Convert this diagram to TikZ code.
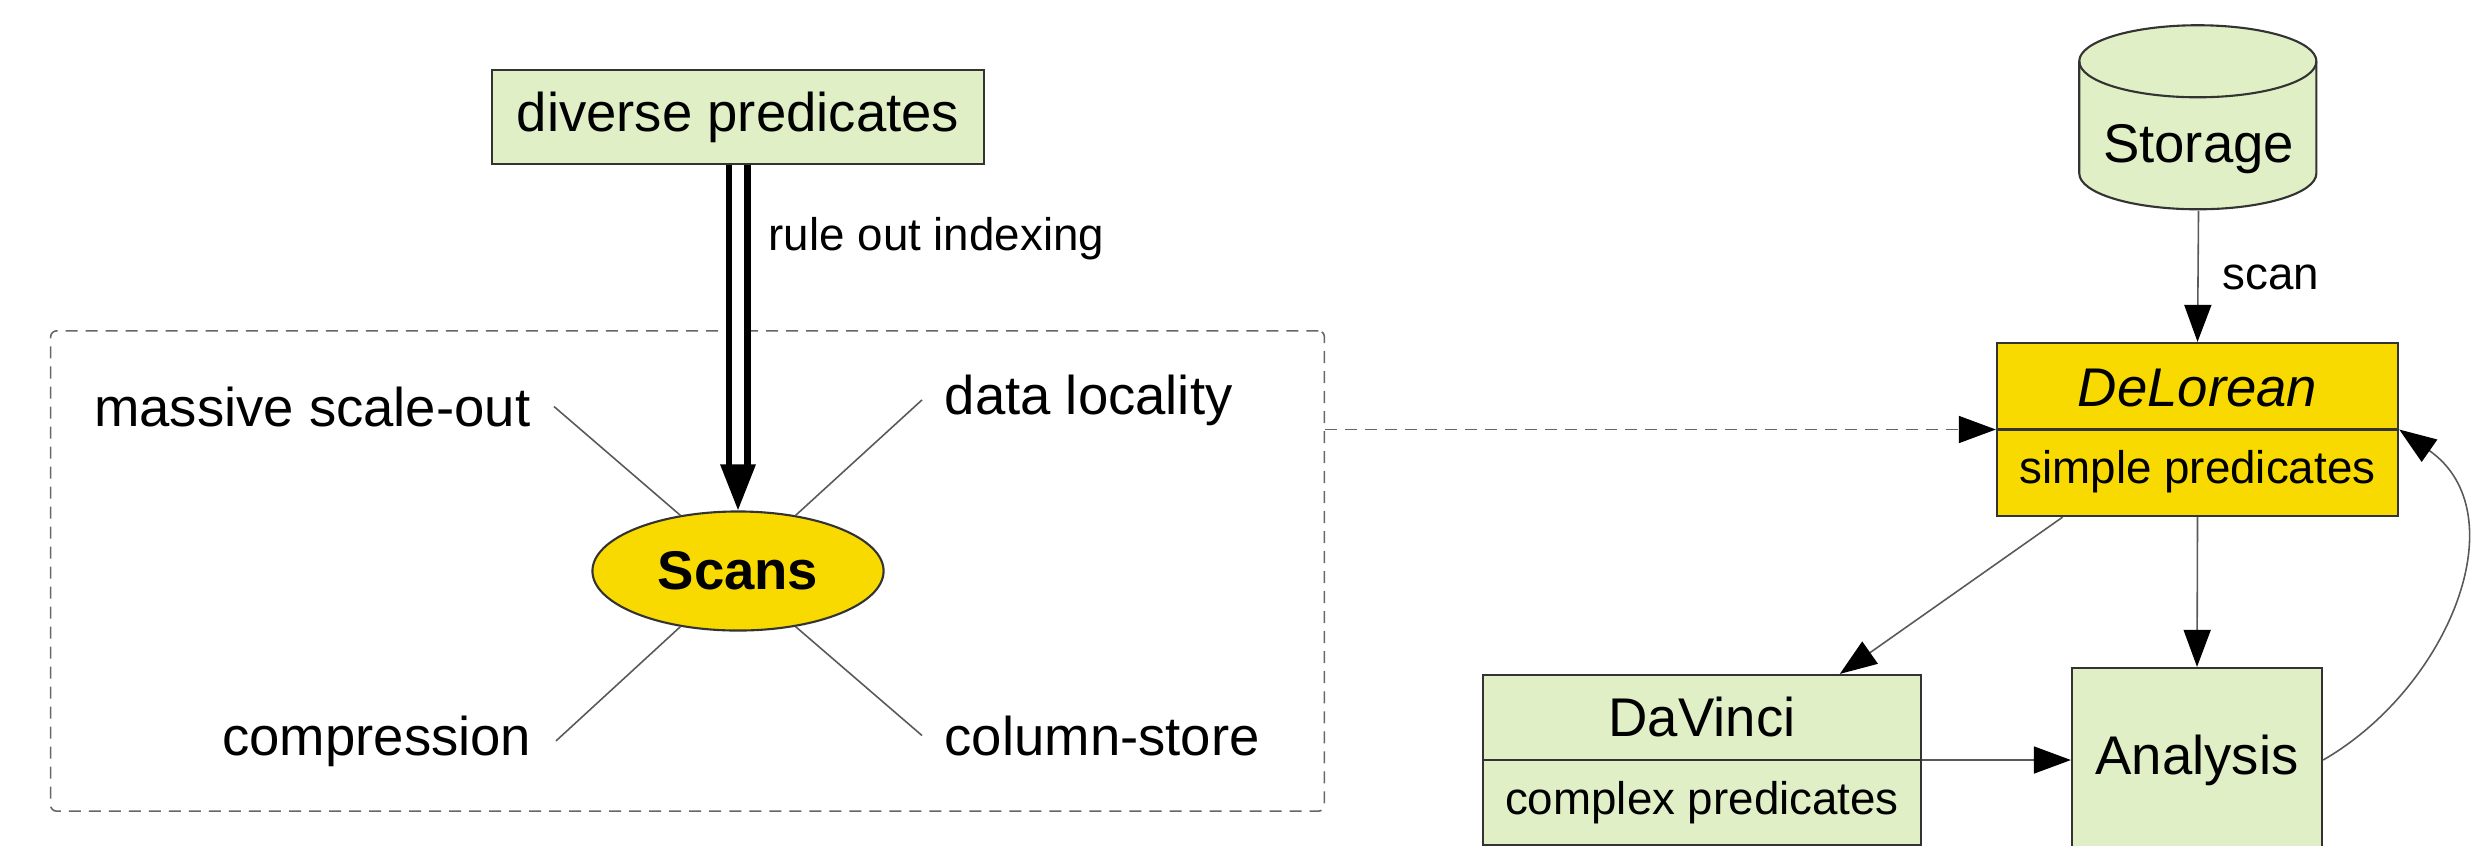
\documentclass[tikz,border=0pt]{standalone}
\usepackage{fontspec}
\setmainfont{Liberation Sans}
\usetikzlibrary{arrows.meta,shapes.geometric}
\definecolor{lgreen}{RGB}{224,239,198}
\definecolor{gold}{RGB}{248,218,0}
\tikzset{
  big/.style={font=\fontsize{15.5pt}{18pt}\selectfont, inner sep=0pt},
  small/.style={font=\fontsize{13pt}{15pt}\selectfont, inner sep=0pt},
  box/.style={draw=black!80, line width=0.6pt, inner sep=0pt},
  tipb/.tip={Triangle[length=0.37cm,width=0.27cm,color=black]},
  conn/.style={draw=black!65, line width=0.45pt, -tipb},
  spoke/.style={draw=black!65, line width=0.45pt},
  grpbox/.style={draw=black!60, line width=0.45pt, dash pattern=on 0.12cm off 0.08cm, rounded corners=0.06cm, inner sep=0pt},
}
\begin{document}
\begin{tikzpicture}[x=0.01cm,y=0.01cm]
\useasboundingbox (0,0) rectangle (2492,-845);

% group
\node[grpbox, minimum width=12.73cm, minimum height=4.80cm] (grp) at (687.5,-571) {};

% top box
\node[box, fill=lgreen, minimum width=4.92cm, minimum height=0.94cm, big] (dp) at (738,-117) {diverse predicates};

% Scans
\node[ellipse, draw=black!80, line width=0.6pt, fill=gold, minimum width=2.91cm, minimum height=1.19cm, inner sep=0pt, font=\bfseries\fontsize{15.5pt}{18pt}\selectfont] (scans) at (738,-571) {Scans};

\draw[line width=0.065cm, double=white, double distance=0.12cm, -{Triangle[length=0.46cm,width=0.34cm,color=black]}] (dp.south) -- (scans.north);
\node[small, anchor=base west] (roi) at (768,-250) {rule out indexing};

% spokes
\node[big, anchor=base east, inner xsep=0.23cm] (mso) at (554,-426) {massive scale-out};
\node[big, anchor=base west, inner xsep=0.22cm] (dl) at (922,-414) {data locality};
\node[big, anchor=base east, inner xsep=0.24cm] (cmp) at (556,-755) {compression};
\node[big, anchor=base west, inner xsep=0.22cm] (cs) at (922,-755) {column-store};
\draw[spoke] (mso.east) -- (scans.136);
\draw[spoke] (dl.west) -- (scans.44);
\draw[spoke] (cmp.east) -- (scans.224);
\draw[spoke] (cs.west) -- (scans.316);

% Storage cylinder
\node[inner sep=0pt, minimum width=2.37cm, minimum height=1.84cm] (sto) at (2198.5,-118) {};
\path[fill=lgreen, draw=black!80, line width=0.6pt] ([yshift=-0.36cm]sto.north west) -- ++(0,-112)
  arc[start angle=180, end angle=360, x radius=1.185cm, y radius=0.36cm] -- ++(0,112)
  arc[start angle=0, end angle=180, x radius=1.185cm, y radius=0.36cm] -- cycle;
\draw[black!80, line width=0.6pt] ([yshift=-0.36cm]sto.north west)
  arc[start angle=180, end angle=360, x radius=1.185cm, y radius=0.36cm];
\node[big, anchor=base] (stot) at (2198.5,-162) {Storage};

% DeLorean
\node[box, fill=gold, minimum width=4.01cm, minimum height=1.73cm] (del) at (2197.5,-429.5) {};
\draw[black!80, line width=0.6pt] (del.west) -- (del.east);
\node[big, anchor=base] (delt) at (2197.5,-406) {\itshape DeLorean};
\node[small, anchor=base] (dels) at (2197.5,-483) {simple predicates};

% DaVinci
\node[box, fill=lgreen, minimum width=4.38cm, minimum height=1.70cm] (dav) at (1702,-760) {};
\draw[black!80, line width=0.6pt] (dav.west) -- (dav.east);
\node[big, anchor=base] (davt) at (1702,-736) {DaVinci};
\node[small, anchor=base] (davs) at (1702,-814) {complex predicates};

% Analysis
\node[box, fill=lgreen, minimum width=2.50cm, minimum height=1.84cm, big] (ana) at (2197,-760) {Analysis};

% connectors
\draw[conn] (sto.south) -- (del.north);
\node[small, anchor=base west] (scanl) at (2222,-289) {scan};
\draw[conn] (del.south) -- (ana.north);
\draw[conn] (del.213.5) -- (dav.32.8);
\draw[conn] (dav.east) -- (ana.west);
\draw[conn] (ana.east) to[out=30, in=-35, looseness=1.1] (del.east);
\draw[draw=black!60, line width=0.45pt, dash pattern=on 0.12cm off 0.08cm, -tipb] (grp.east |- del.west) -- (del.west);

\end{tikzpicture}
\end{document}
